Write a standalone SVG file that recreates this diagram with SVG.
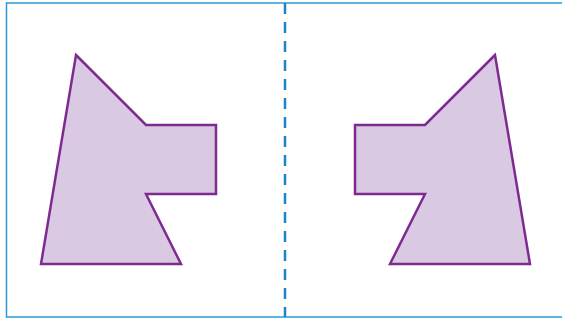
<svg xmlns="http://www.w3.org/2000/svg" width="562" height="320" viewBox="0 0 562 320">
<style>
.frame{fill:none;stroke:#2a9ad6;stroke-width:1.5}
.axis{stroke:#1a86c8;stroke-width:2.5;stroke-dasharray:11 8}
.shape{fill:#d9c9e2;stroke:#7e2b91;stroke-width:2.5;stroke-linejoin:miter}
</style>
<rect class="frame" x="6.5" y="3" width="570" height="314"/>
<line class="axis" x1="285" y1="3" x2="285" y2="317"/>
<g id="left-shape"><polygon class="shape" points="76,55 146,125 216,125 216,194 146,194 181,264 41,264"/></g>
<g id="right-shape"><polygon class="shape" points="495,55 425,125 355,125 355,194 425,194 390,264 530,264"/></g>
</svg>
